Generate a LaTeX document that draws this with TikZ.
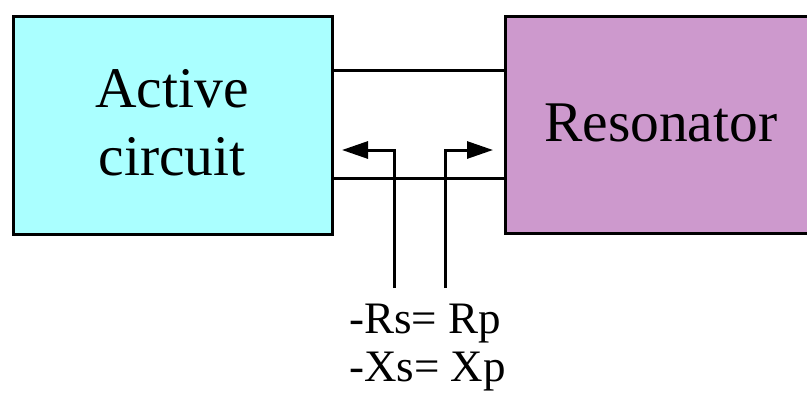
\documentclass[tikz,border=0pt]{standalone}
\usepackage{fontspec}
\setmainfont{Liberation Serif}
\usetikzlibrary{arrows.meta}
\definecolor{activefill}{RGB}{170,255,255}
\definecolor{resfill}{RGB}{205,153,205}
\tikzset{
  block/.style={draw=black, line width=3pt, anchor=north west, inner sep=0pt},
  wire/.style={line width=3pt},
  probe/.style={line width=3pt, -{Triangle[length=26pt,width=17pt]}},
}
\begin{document}
\begin{tikzpicture}[x=1pt,y=-1pt]
\useasboundingbox (0,0) rectangle (807,392);
\begin{scope}
\clip (0,0) rectangle (807,392);
\node[block, fill=activefill, minimum width=319pt, minimum height=218pt] (act) at (12,15) {};
\node[block, fill=resfill, minimum width=340pt, minimum height=217pt] (res) at (504,15) {};
\end{scope}
\node[font=\fontsize{57.5}{68}\selectfont, align=center] (actlbl) at (172,123) {Active\\circuit};
\node[font=\fontsize{57.5}{68}\selectfont, anchor=base west, inner sep=0pt] (reslbl) at (544,141) {Resonator};
% wires
\draw[wire] (331,70) -- (504,70);
\draw[wire] (331,178) -- (504,178);
% probes
\coordinate (pl) at (394,288);
\coordinate (pr) at (445,288);
\coordinate (tl) at (342,150);
\coordinate (tr) at (493,150);
\draw[probe] (pl) |- (tl);
\draw[probe] (pr) |- (tr);
% labels
\node[font=\fontsize{45}{48}\selectfont, anchor=base west, inner sep=0pt] (eq1) at (349,333) {-Rs= Rp};
\node[font=\fontsize{45}{48}\selectfont, anchor=base west, inner sep=0pt] (eq2) at (349,381) {-Xs= Xp};
\end{tikzpicture}
\end{document}
